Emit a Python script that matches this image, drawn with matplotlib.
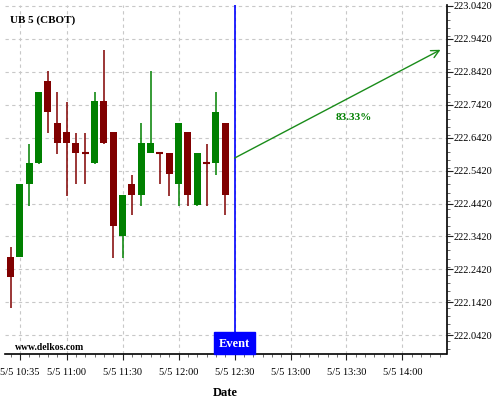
import matplotlib
matplotlib.use('Agg')
import matplotlib.pyplot as plt
import matplotlib.transforms as mtransforms
from matplotlib.patches import Rectangle
from matplotlib.ticker import MultipleLocator, FixedLocator

plt.rcParams['font.family'] = ['Liberation Serif', 'DejaVu Serif']

# minutes after 10:00, one candle every 5 minutes (10:30 .. 12:25)
times = [30, 35, 40, 45, 50, 55, 60, 65, 70, 75, 80, 85,
         90, 95, 100, 105, 110, 115, 120, 125, 130, 135, 140, 145]
opens = [222.279, 222.279, 222.502, 222.564, 222.813, 222.688, 222.658, 222.625,
         222.597, 222.564, 222.752, 222.658, 222.344, 222.501, 222.468, 222.596,
         222.598, 222.595, 222.502, 222.658, 222.438, 222.566, 222.564, 222.688]
highs = [222.311, 222.500, 222.624, 222.782, 222.845, 222.781, 222.750, 222.657,
         222.657, 222.781, 222.909, 222.658, 222.467, 222.530, 222.688, 222.845,
         222.598, 222.595, 222.688, 222.658, 222.595, 222.624, 222.781, 222.688]
lows = [222.124, 222.279, 222.436, 222.562, 222.656, 222.592, 222.465, 222.500,
        222.500, 222.562, 222.623, 222.277, 222.277, 222.406, 222.436, 222.594,
        222.500, 222.466, 222.436, 222.436, 222.436, 222.436, 222.530, 222.406]
closes = [222.220, 222.500, 222.564, 222.782, 222.719, 222.626, 222.626, 222.596,
          222.596, 222.752, 222.626, 222.374, 222.467, 222.468, 222.625, 222.625,
          222.596, 222.532, 222.688, 222.468, 222.595, 222.564, 222.719, 222.468]

event_time = 150
arrow_start = (150, 222.580)
arrow_end = (260.4, 222.909)
forecast_label = '83.33%'

tick_times = [35, 60, 90, 120, 150, 180, 210, 240]
tick_labels = ['5/5 10:35', '5/5 11:00', '5/5 11:30', '5/5 12:00',
               '5/5 12:30', '5/5 13:00', '5/5 13:30', '5/5 14:00']

green = '#008000'
red = '#800000'

fig = plt.figure(figsize=(5, 4), dpi=100)
ax = fig.add_axes([0.01, 0.115, 0.883, 0.8725])

for t, o, h, l, c in zip(times, opens, highs, lows, closes):
    col = green if c >= o else red
    ax.vlines(t, l, h, color=col, linewidth=1.1, zorder=3)
    body = abs(c - o)
    if body < 0.003:
        ax.hlines((o + c) / 2, t - 1.9, t + 1.9, color=col, linewidth=1.5, zorder=3)
    else:
        ax.bar(t, body, bottom=min(o, c), width=3.75, color=col, zorder=4)

ax.axvline(event_time, color='#0000ff', linewidth=1.2, zorder=5)

ax.annotate('', xy=arrow_end, xytext=arrow_start,
            arrowprops=dict(arrowstyle='->', color='#1a8c1a', lw=1.0,
                            mutation_scale=14, shrinkA=0, shrinkB=0), zorder=6)
ax.text(214, 222.703, forecast_label, color=green, fontsize=8, fontweight='bold',
        ha='center', va='center')

trans = mtransforms.blended_transform_factory(ax.transData, ax.transAxes)
ax.add_patch(Rectangle((139, 0), 22, 0.063, transform=trans, color='#0000ff',
                       zorder=7, clip_on=False))
ax.text(150, 0.028, 'Event', transform=trans, color='white', fontsize=9,
        fontweight='bold', ha='center', va='center', zorder=8)

ax.text(0.011, 0.957, 'UB 5 (CBOT)', transform=ax.transAxes, fontsize=8,
        fontweight='bold', ha='left', va='center')
ax.text(0.022, 0.006, 'www.delkos.com', transform=ax.transAxes, fontsize=7,
        fontweight='bold', ha='left', va='bottom')

ax.set_xlim(27, 263.6)
ax.set_ylim(221.985, 223.045)

ax.xaxis.set_major_locator(FixedLocator(tick_times))
ax.set_xticklabels(tick_labels)
ax.xaxis.set_minor_locator(MultipleLocator(5))
ax.yaxis.set_major_locator(FixedLocator([222.042 + 0.1 * k for k in range(11)]))
ax.yaxis.set_minor_locator(MultipleLocator(0.025))
ax.yaxis.set_major_formatter(plt.FuncFormatter(lambda v, p: '%.4f' % v))
ax.yaxis.tick_right()

ax.tick_params(axis='both', which='major', labelsize=7.5, length=4, width=0.8,
               direction='out', colors='#222222', labelcolor='black')
ax.tick_params(axis='both', which='minor', length=2.5, width=0.6, colors='#555555')
ax.tick_params(axis='y', pad=1)
ax.tick_params(axis='x', pad=6)

ax.spines['left'].set_visible(False)
ax.spines['top'].set_visible(False)
ax.spines['right'].set_linewidth(1.2)
ax.spines['bottom'].set_linewidth(1.2)

ax.grid(True, which='major', color='#c8c8c8', linestyle=(0, (3, 3)), linewidth=0.8)
ax.set_axisbelow(True)

ax.set_xlabel('Date', fontsize=9, fontweight='bold', labelpad=7)

fig.savefig('out.png', dpi=100)
